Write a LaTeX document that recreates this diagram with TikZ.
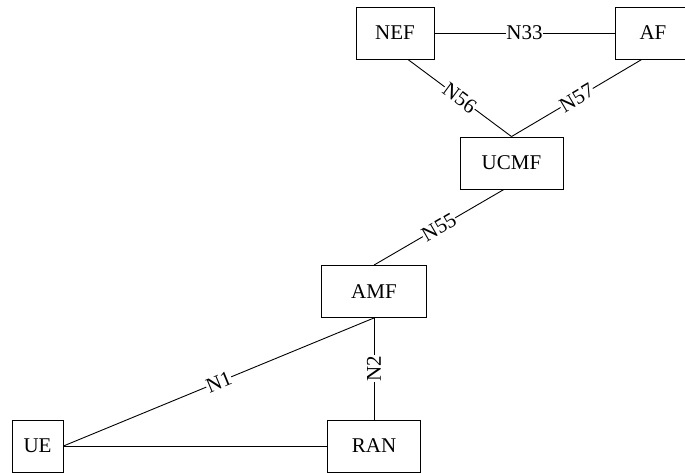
\documentclass[tikz,border=0pt]{standalone}
\usepackage{fontspec}
\setmainfont{Liberation Serif}
\usetikzlibrary{calc}

\begin{document}
\begin{tikzpicture}[x=1pt,y=-1pt,line width=0.9pt,
    nf/.style={draw,rectangle,inner sep=0pt,minimum height=52pt,font=\fontsize{21}{25}\selectfont},
    lbl/.style={fill=white,sloped,inner sep=0.5pt,font=\fontsize{21}{25}\selectfont}]
    \useasboundingbox (0,0) rectangle (685,472);
    \clip (0,0) rectangle (685,472);
    % network functions
    \node[nf,minimum width=78pt]  (nef)  at (395,33)    {NEF};
    \node[nf,minimum width=76pt]  (af)   at (653,33)    {AF};
    \node[nf,minimum width=103pt] (ucmf) at (511.5,163) {UCMF};
    \node[nf,minimum width=105pt] (amf)  at (374,291.5) {AMF};
    \node[nf,minimum width=51pt]  (ue)   at (37.5,446)  {UE};
    \node[nf,minimum width=93pt]  (ran)  at (374,446)   {RAN};
    % reference points
    \draw (nef) -- node[lbl] {N33} (af);
    \draw (nef.-64) -- node[lbl] {N56} (ucmf.north);
    \draw (ucmf.north) -- node[lbl] {N57} (af.-113);
    \draw (amf.north) -- node[lbl] {N55} (ucmf.-106);
    \draw (ue.east) -- node[lbl] {N1} (amf.south);
    \draw (ran.north) -- node[lbl] {N2} (amf.south);
    \draw (ue) -- (ran);
\end{tikzpicture}
\end{document}
